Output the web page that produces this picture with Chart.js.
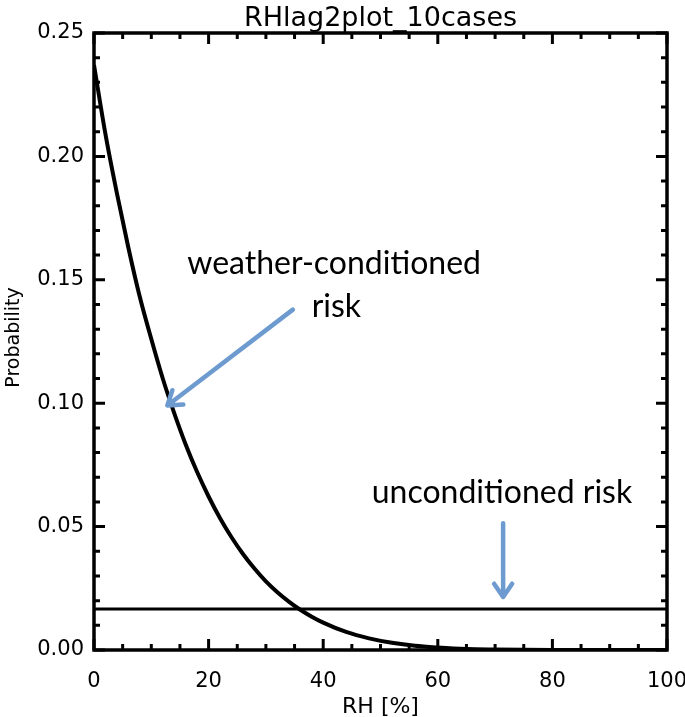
<!DOCTYPE html>
<html>
<head>
<meta charset="utf-8">
<script src="https://cdn.jsdelivr.net/npm/chart.js@4.4.1/dist/chart.umd.min.js"></script>
<style>
  html, body { margin: 0; padding: 0; background: #fff; }
  #wrap { width: 685px; height: 717px; }
</style>
</head>
<body>
<div id="wrap"><canvas id="c" width="685" height="717"></canvas></div>
<script>
// values
const rh = [0, 2, 4, 6, 8, 10, 12, 14, 16, 18, 20, 22, 24, 26, 28, 30, 32, 34, 36, 38, 40, 44, 48, 52, 56, 60, 65, 70, 80, 90, 100];
const weatherRisk = [0.237, 0.209, 0.185, 0.163, 0.143, 0.126, 0.110, 0.096, 0.0833, 0.0721, 0.0622, 0.0534, 0.0457, 0.0389, 0.0330, 0.0278, 0.0234, 0.0196, 0.0163, 0.0135, 0.0111, 0.0073, 0.0047, 0.0029, 0.0017, 0.0010, 0.0004, 0.0002, 0.0, 0.0, 0.0];
const unconditionedRisk = 0.0166;
const xTicks = [0, 20, 40, 60, 80, 100];
const yTicks = [0.00, 0.05, 0.10, 0.15, 0.20, 0.25];

const title = 'RHlag2plot_10cases';
const xTitle = 'RH [%]';
const yTitle = 'Probability';

// annotations, placed in data units
const notes = [
  { text: 'weather-conditioned', x: 41.9, y: 0.1525 },
  { text: 'risk', x: 42.3, y: 0.1351 },
  { text: 'unconditioned risk', x: 71.2, y: 0.0595 }
];
const arrows = [
  { from: [34.7, 0.1379], to: [12.8, 0.0991] },
  { from: [71.4, 0.0514], to: [71.4, 0.0215] }
];

const tickFont = '"DejaVu Sans", sans-serif';
const noteFont = 'Lato, "Open Sans", sans-serif';

const framePlugin = {
  id: 'frame',
  afterDraw(chart) {
    const { ctx, chartArea: a, scales } = chart;
    const xs = scales.x, ys = scales.y;
    ctx.save();
    ctx.strokeStyle = '#000';
    ctx.lineCap = 'butt';
    // inward ticks on all four sides
    ctx.lineWidth = 3;
    for (let v = 0; v <= 100 + 1e-9; v += 5) {
      const px = xs.getPixelForValue(v);
      const len = (v % 20 === 0) ? 11 : 6;
      ctx.beginPath();
      ctx.moveTo(px, a.bottom); ctx.lineTo(px, a.bottom - len);
      ctx.moveTo(px, a.top); ctx.lineTo(px, a.top + len);
      ctx.stroke();
    }
    for (let i = 0; i <= 25; i++) {
      const py = ys.getPixelForValue(i * 0.01);
      const len = (i % 5 === 0) ? 11 : 6;
      ctx.beginPath();
      ctx.moveTo(a.left, py); ctx.lineTo(a.left + len, py);
      ctx.moveTo(a.right, py); ctx.lineTo(a.right - len, py);
      ctx.stroke();
    }
    ctx.lineWidth = 3.5;
    ctx.strokeRect(a.left, a.top, a.right - a.left, a.bottom - a.top);

    // titles
    ctx.fillStyle = '#000';
    ctx.textAlign = 'center';
    ctx.textBaseline = 'alphabetic';
    ctx.font = '27px ' + tickFont;
    ctx.fillText(title, (a.left + a.right) / 2, 26);
    ctx.font = '22px ' + tickFont;
    ctx.fillText(xTitle, (a.left + a.right) / 2, 713);
    ctx.save();
    ctx.translate(19, (a.top + a.bottom) / 2 - 4);
    ctx.rotate(-Math.PI / 2);
    ctx.font = '19px ' + tickFont;
    ctx.fillText(yTitle, 0, 0);
    ctx.restore();

    // annotations
    ctx.font = '32px ' + noteFont;
    notes.forEach(n => {
      ctx.fillText(n.text, xs.getPixelForValue(n.x), ys.getPixelForValue(n.y));
    });
    ctx.strokeStyle = '#6d9bd0';
    ctx.lineWidth = 4.5;
    ctx.lineCap = 'round';
    ctx.lineJoin = 'round';
    arrows.forEach(ar => {
      const x0 = xs.getPixelForValue(ar.from[0]), y0 = ys.getPixelForValue(ar.from[1]);
      const x1 = xs.getPixelForValue(ar.to[0]), y1 = ys.getPixelForValue(ar.to[1]);
      const ang = Math.atan2(y1 - y0, x1 - x0);
      const h = 16;
      ctx.beginPath();
      ctx.moveTo(x0, y0); ctx.lineTo(x1, y1);
      ctx.moveTo(x1 - h * Math.cos(ang - 0.6), y1 - h * Math.sin(ang - 0.6));
      ctx.lineTo(x1, y1);
      ctx.lineTo(x1 - h * Math.cos(ang + 0.6), y1 - h * Math.sin(ang + 0.6));
      ctx.stroke();
    });
    ctx.restore();
  }
};

new Chart(document.getElementById('c'), {
  type: 'scatter',
  data: {
    datasets: [
      {
        data: rh.map((x, i) => ({ x, y: weatherRisk[i] })),
        showLine: true,
        borderColor: '#000',
        borderWidth: 4,
        pointRadius: 0,
        cubicInterpolationMode: 'monotone'
      },
      {
        data: [{ x: 0, y: unconditionedRisk }, { x: 100, y: unconditionedRisk }],
        showLine: true,
        borderColor: '#000',
        borderWidth: 3,
        pointRadius: 0
      }
    ]
  },
  options: {
    responsive: false,
    animation: false,
    layout: { padding: { top: 33, right: 18, left: 0, bottom: 0 } },
    plugins: { legend: { display: false }, tooltip: { enabled: false } },
    scales: {
      x: {
        type: 'linear',
        min: 0,
        max: 100,
        afterFit(s) { s.height = 67; s.paddingLeft = 0; s.paddingRight = 0; },
        afterBuildTicks(s) { s.ticks = xTicks.map(v => ({ value: v })); },
        grid: { display: false, drawTicks: false },
        border: { display: false },
        ticks: { color: '#000', padding: 19, maxRotation: 0, font: { family: tickFont, size: 21 } }
      },
      y: {
        type: 'linear',
        min: 0,
        max: 0.25,
        afterFit(s) { s.width = 94; s.paddingTop = 0; s.paddingBottom = 0; },
        afterBuildTicks(s) { s.ticks = yTicks.map(v => ({ value: v })); },
        grid: { display: false, drawTicks: false },
        border: { display: false },
        ticks: {
          color: '#000',
          padding: 10,
          font: { family: tickFont, size: 21 },
          callback: v => Number(v).toFixed(2)
        }
      }
    }
  },
  plugins: [framePlugin]
});
</script>
</body>
</html>
